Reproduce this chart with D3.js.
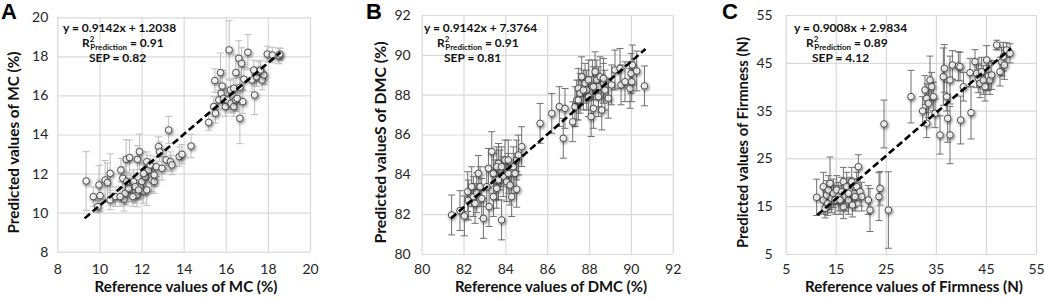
<!DOCTYPE html>
<html>
<head>
<meta charset="utf-8">
<script src="https://cdn.jsdelivr.net/npm/d3@7"></script>
<style>
  body { margin: 0; background: #fff; }
  svg { display: block; }
  text { font-family: Lato, "Open Sans", sans-serif; }
</style>
</head>
<body>
<script>
// ---------- Panel A: MC (%) ----------
const aRef = [9.37,9.71,9.98,10.03,9.92,10.27,10.38,10.51,10.51,10.75,11.02,11.11,11.17,11.27,11.43,11.22,11.46,11.54,11.62,11.70,11.78,11.81,11.90,11.94,12.02,12.10,12.17,12.25,12.25,12.33,12.41,12.49,12.60,12.60,12.70,12.81,12.86,12.97,13.17,13.29,13.37,13.44,13.79,13.92,14.35,11.38,11.59,11.70,11.30,11.86,10.98,12.10,
  15.19,15.43,15.51,15.48,15.75,15.83,15.78,15.67,15.90,15.98,16.06,16.16,16.22,16.25,16.38,16.46,16.54,16.48,16.62,16.75,16.67,16.81,16.86,17.05,17.25,17.37,17.46,17.57,17.73,17.81,17.97,18.21,18.52,18.57,17.33,17.65,16.38,16.67];
const aPred = [11.62,10.82,11.42,10.87,10.31,11.67,11.54,12.01,10.65,10.82,12.18,11.76,10.68,12.73,12.82,10.99,11.42,11.16,11.59,11.08,10.90,12.73,13.12,11.33,11.59,11.08,11.84,12.61,11.16,12.18,12.44,11.67,11.59,11.93,12.35,13.38,13.12,12.27,12.70,14.23,12.61,12.44,12.87,12.99,13.41,11.25,10.82,11.33,11.59,11.16,10.82,12.01,
  14.62,15.43,15.09,16.76,17.17,16.48,16.11,15.77,15.85,15.43,15.77,18.33,16.28,15.60,15.43,15.77,15.85,17.17,17.90,17.64,14.83,15.68,16.83,18.21,16.79,16.02,16.96,17.22,16.79,17.05,18.12,18.07,18.02,18.12,17.30,17.30,16.37,16.42];
const aErr = [1.5,0.5,1.0,0.8,0.3,1.0,1.0,1.0,0.5,0.5,0.6,0.6,0.6,1.0,0.9,0.6,0.6,0.6,0.6,0.6,0.6,0.7,0.9,0.6,0.6,0.6,0.6,0.5,0.8,0.5,0.5,0.6,0.6,0.6,0.5,0.5,0.5,0.6,0.5,0.7,0.5,0.5,0.5,0.5,0.6,0.5,0.5,0.5,0.5,0.5,0.5,0.5,
  0.4,0.5,0.5,0.6,1.0,0.8,0.5,0.5,0.5,0.5,0.5,1.5,0.5,0.5,0.5,0.6,0.6,0.9,0.9,0.8,1.3,0.6,0.6,0.9,0.6,1.0,0.5,0.5,0.5,0.5,0.4,0.4,0.4,0.3,0.5,0.5,0.5,0.5];
const aTicks = [8,10,12,14,16,18,20];

// ---------- Panel B: DMC (%) ----------
const bRef = [81.43,81.83,82.04,82.23,82.20,82.47,82.55,82.63,82.71,82.79,82.87,82.95,83.19,83.22,83.35,83.43,83.51,83.59,83.67,83.75,83.82,83.90,83.98,84.06,84.14,84.22,84.30,84.38,84.46,84.54,84.54,84.62,84.78,83.43,83.59,83.82,84.14,83.67,82.39,83.11,
  85.66,86.22,86.58,86.85,86.77,87.22,87.33,87.41,87.49,87.57,87.65,87.81,87.89,87.97,88.10,88.16,88.21,88.29,88.37,88.45,88.53,88.61,88.69,88.76,88.92,89.08,89.24,89.48,89.53,89.72,89.96,90.01,90.07,90.28,90.65,90.04,87.97,88.21,88.45,88.69,87.49,87.73];
const bPred = [81.96,82.18,81.91,82.71,83.13,82.88,82.54,83.08,84.05,83.38,82.79,81.79,84.30,82.38,85.14,82.88,83.72,83.30,84.55,84.22,81.71,83.88,84.72,83.63,84.05,83.46,82.88,84.38,84.05,83.25,84.72,84.97,85.39,84.05,84.38,84.38,84.72,83.72,83.38,83.38,
  86.56,87.06,87.40,87.31,85.81,86.64,87.40,87.73,88.32,88.07,88.90,88.57,88.23,87.90,86.90,88.74,87.31,89.15,88.74,88.40,88.90,87.23,88.57,88.23,87.82,88.49,89.24,89.32,88.49,88.65,88.32,89.07,89.49,89.19,88.44,88.65,88.74,88.40,87.90,88.82,87.73,88.23];
const bErr = [1.0,1.0,1.0,1.0,1.0,1.0,1.0,1.0,0.9,1.0,1.0,1.0,1.0,1.0,1.0,1.0,1.0,1.0,1.0,1.0,1.0,1.0,1.0,1.0,1.0,1.0,1.0,1.0,1.0,0.9,1.0,1.0,1.0,1.0,1.0,1.0,1.0,1.0,1.0,1.0,
  1.0,1.0,1.0,1.0,1.0,1.0,1.0,1.0,1.0,1.0,1.0,1.0,1.0,1.0,1.0,1.0,1.0,1.0,1.0,1.0,1.0,1.0,1.0,1.0,1.0,1.0,1.0,1.0,1.0,1.0,1.0,1.0,1.0,1.0,1.0,1.0,1.0,1.0,1.0,1.0,1.0,1.0];
const bTicks = [80,82,84,86,88,90,92];

// ---------- Panel C: Firmness (N) ----------
const cRef = [11.19,12.52,12.52,12.86,13.19,13.39,13.52,13.85,14.19,14.52,15.19,15.52,16.19,16.52,16.52,16.85,17.18,17.52,17.85,18.18,18.32,18.72,19.18,19.51,19.85,20.18,21.51,21.84,23.64,23.84,24.64,25.51,14.85,15.85,17.52,18.85,
  30.03,32.36,32.83,33.16,33.16,33.50,33.83,34.16,34.49,34.83,35.83,36.49,36.69,37.16,37.36,37.82,37.82,38.29,39.49,39.82,39.95,40.49,41.82,42.02,42.82,43.15,43.48,43.82,44.15,44.48,44.81,45.15,45.48,45.81,46.15,47.15,47.81,48.14,48.48,48.68,49.14,49.81];
const cPred = [16.86,19.09,16.30,14.55,17.34,15.60,18.39,19.78,16.65,17.69,18.39,17.00,18.04,20.13,14.90,17.00,19.09,16.30,18.04,20.13,15.25,17.69,19.09,23.27,18.04,17.00,16.30,14.20,17.00,18.74,32.20,14.20,16.30,16.30,17.69,17.00,
  37.92,34.92,39.31,37.57,32.34,36.52,41.40,40.00,37.92,34.43,29.90,42.10,43.84,37.92,33.38,41.40,29.90,44.54,44.33,44.19,33.03,40.00,42.94,34.57,45.24,42.80,41.75,40.70,43.15,41.40,40.00,45.59,42.24,41.40,42.45,48.72,43.15,45.24,46.28,44.54,47.68,46.98];
const cErr = [3.8,3.0,3.0,2.0,3.0,2.5,3.0,5.5,3.0,3.0,3.0,3.0,3.0,3.0,2.5,3.0,3.0,3.0,3.0,3.0,2.5,3.0,3.0,2.5,3.0,3.0,3.0,4.5,5.0,3.5,5.0,8.0,3.0,3.0,3.0,3.0,
  5.5,3.0,3.0,3.0,3.0,3.0,5.0,3.0,3.0,3.0,4.0,6.0,5.0,3.0,5.0,5.0,6.0,3.0,3.0,3.0,5.0,3.0,3.0,5.5,2.5,3.0,3.0,3.0,3.0,3.0,3.0,3.0,3.0,3.0,3.0,1.0,3.0,3.0,3.0,3.0,1.5,2.0];
const cTicks = [5,15,25,35,45,55];

// ---------- Regression lines & annotations ----------
const fitSlopes = [0.9142, 0.9142, 0.9008];
const fitIntercepts = [1.2038, 7.3764, 2.9834];
const fitXRanges = [[9.3, 18.6], [81.4, 90.7], [11.3, 50.0]];
const eqLabels = ["y = 0.9142x + 1.2038", "y = 0.9142x + 7.3764", "y = 0.9008x + 2.9834"];
const r2Values = ["0.91", "0.91", "0.89"];
const sepLabels = ["SEP = 0.82", "SEP = 0.81", "SEP = 4.12"];
const panelLetters = ["A", "B", "C"];
const xTitles = ["Reference values of MC (%)", "Reference values of DMC (%)", "Reference values of Firmness (N)"];
const yTitles = ["Predicted values of MC (%)", "Predicted valueS of DMC (%)", "Predicted values of Firmness (N)"];

// ---------- Layout (positions / styles only) ----------
const layout = [
  { left: 57.3, right: 310, top: 17.3, bottom: 251.7, yPad: 9, letterX: 1, eqX: [63, 82, 89], xtX: 186, xtW: 183, ytW: 182, ytX: 13, errColor: "#bdbdbd" },
  { left: 421.7, right: 672.7, top: 15, bottom: 254, yPad: 11, letterX: 366, eqX: [424, 437, 444], xtX: 551, xtW: 192, ytW: 202, ytX: 380, errColor: "#707070" },
  { left: 785.7, right: 1036, top: 15, bottom: 254, yPad: 13, letterX: 722, eqX: [794, 806, 812], xtX: 914, xtW: 218, ytW: 211, ytX: 742, errColor: "#707070" }
];
const datasets = [
  { ref: aRef, pred: aPred, err: aErr, ticks: aTicks },
  { ref: bRef, pred: bPred, err: bErr, ticks: bTicks },
  { ref: cRef, pred: cPred, err: cErr, ticks: cTicks }
];

const svg = d3.select("body").append("svg").attr("width", 1045).attr("height", 299);
const defs = svg.append("defs");
const f = defs.append("filter").attr("id", "glow").attr("x", "-100%").attr("y", "-100%").attr("width", "300%").attr("height", "300%");
f.append("feDropShadow").attr("dx", 1).attr("dy", 1.5).attr("stdDeviation", 1.7)
  .attr("flood-color", "#000").attr("flood-opacity", 0.6);

datasets.forEach((ds, i) => {
  const L = layout[i];
  const ticks = ds.ticks;
  const x = d3.scaleLinear().domain(d3.extent(ticks)).range([L.left, L.right]);
  const y = d3.scaleLinear().domain(d3.extent(ticks)).range([L.bottom, L.top]);
  const g = svg.append("g");

  // grid + tick labels
  const xAx = g.append("g").attr("transform", `translate(0,${L.bottom})`)
    .call(d3.axisBottom(x).tickValues(ticks).tickSize(-(L.bottom - L.top)).tickPadding(270 - L.bottom - 5 - 0).tickFormat(d3.format("d")));
  const yAx = g.append("g").attr("transform", `translate(${L.left},0)`)
    .call(d3.axisLeft(y).tickValues(ticks).tickSize(-(L.right - L.left)).tickPadding(L.yPad).tickFormat(d3.format("d")));
  [xAx, yAx].forEach(ax => {
    ax.select(".domain").remove();
    ax.selectAll(".tick line").attr("stroke", "#d9d9d9").attr("stroke-width", 1.2);
    ax.selectAll(".tick text").attr("fill", "#262626").style("font-size", "14px").style("font-family", "Lato, sans-serif");
  });
  xAx.selectAll(".tick text").attr("dy", "0.62em");

  const pts = d3.range(ds.ref.length).map(k => ({ x: ds.ref[k], y: ds.pred[k], e: ds.err[k] }));

  // error bars
  const eb = g.append("g").attr("stroke", L.errColor).attr("stroke-width", 1);
  eb.selectAll("line.v").data(pts).join("line").attr("class", "v")
    .attr("x1", d => x(d.x)).attr("x2", d => x(d.x))
    .attr("y1", d => y(d.y - d.e)).attr("y2", d => y(d.y + d.e));
  eb.selectAll("line.t").data(pts).join("line").attr("class", "t")
    .attr("x1", d => x(d.x) - 3.5).attr("x2", d => x(d.x) + 3.5)
    .attr("y1", d => y(d.y + d.e)).attr("y2", d => y(d.y + d.e));
  eb.selectAll("line.b").data(pts).join("line").attr("class", "b")
    .attr("x1", d => x(d.x) - 3.5).attr("x2", d => x(d.x) + 3.5)
    .attr("y1", d => y(d.y - d.e)).attr("y2", d => y(d.y - d.e));

  // points
  g.append("g").selectAll("circle").data(pts).join("circle")
    .attr("cx", d => x(d.x)).attr("cy", d => y(d.y)).attr("r", 3.3)
    .attr("fill", "#ffffff").attr("fill-opacity", 0.75)
    .attr("stroke", "#4d4d4d").attr("stroke-width", 1)
    .attr("filter", "url(#glow)");

  // regression line
  const xr = fitXRanges[i];
  g.append("line")
    .attr("x1", x(xr[0])).attr("y1", y(fitSlopes[i] * xr[0] + fitIntercepts[i]))
    .attr("x2", x(xr[1])).attr("y2", y(fitSlopes[i] * xr[1] + fitIntercepts[i]))
    .attr("stroke", "#000").attr("stroke-width", 2.6).attr("stroke-dasharray", "7,3.5");

  // annotation
  const ann = g.append("g").attr("font-weight", "bold").attr("fill", "#111").style("font-size", "12px");
  ann.append("text").attr("x", L.eqX[0]).attr("y", 32).text(eqLabels[i]);
  const r2 = ann.append("text").attr("x", L.eqX[1]).attr("y", 47);
  r2.append("tspan").text("R");
  r2.append("tspan").attr("dy", -5).style("font-size", "8px").text("2");
  r2.append("tspan").attr("dy", 8).attr("dx", -4).style("font-size", "8px").text("Prediction");
  r2.append("tspan").attr("dy", -3).text(" = " + r2Values[i]);
  ann.append("text").attr("x", L.eqX[2]).attr("y", 62).text(sepLabels[i]);

  // axis titles
  g.append("text").attr("x", L.xtX).attr("y", 292)
    .attr("text-anchor", "middle").attr("font-weight", "bold").attr("fill", "#111")
    .style("font-size", "16px").attr("textLength", L.xtW).attr("lengthAdjust", "spacingAndGlyphs")
    .text(xTitles[i]);
  g.append("text").attr("transform", `translate(${L.ytX + 6},${(L.top + L.bottom) / 2 + 8}) rotate(-90)`)
    .attr("text-anchor", "middle").attr("font-weight", "bold").attr("fill", "#111")
    .style("font-size", "16px").attr("textLength", L.ytW).attr("lengthAdjust", "spacingAndGlyphs")
    .text(yTitles[i]);

  // panel letter
  g.append("text").attr("x", L.letterX).attr("y", 19)
    .attr("font-weight", "bold").attr("fill", "#000").style("font-size", "22px")
    .style("font-family", "'Liberation Sans', Arial, sans-serif").text(panelLetters[i]);
});
</script>
</body>
</html>
